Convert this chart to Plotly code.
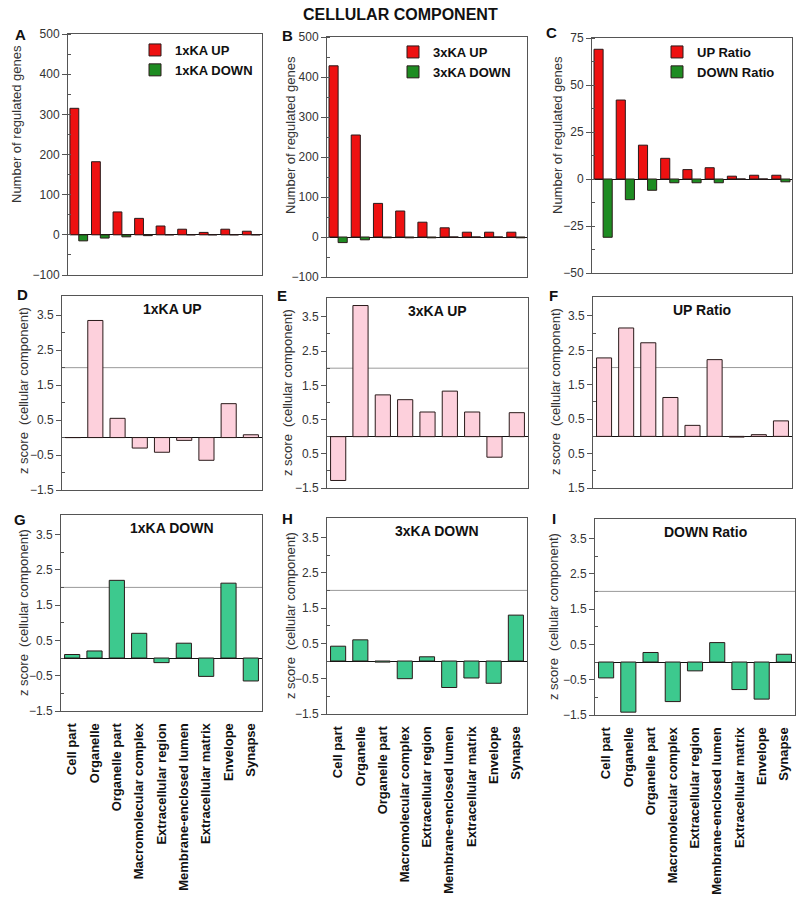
import plotly.graph_objects as go

W, H = 800, 897

categories = ["Cell part", "Organelle", "Organelle part", "Macromolecular complex",
              "Extracellular region", "Membrane-enclosed lumen", "Extracellular matrix",
              "Envelope", "Synapse"]

# Top row: number of regulated genes
ka1_up = [315, 182, 57, 41, 22, 14, 6, 14, 9]
ka1_down = [-15, -8, -5, -2, 0, 0, 0, 0, 0]
ka3_up = [428, 255, 84, 65, 37, 23, 12, 12, 12]
ka3_down = [-14, -7, -2, -2, -2, 0, 0, 0, -2]
ratio_up = [69, 42, 18, 11, 5, 6, 1.5, 2, 2]
ratio_down = [-31, -11, -6, -2, -2, -2, 0, 0, -1.5]

# z scores
z_1ka_up = [0, 3.35, 0.55, -0.3, -0.42, -0.08, -0.65, 0.97, 0.08]
z_3ka_up = [-1.28, 3.83, 1.22, 1.08, 0.72, 1.33, 0.72, -0.6, 0.7]
z_ratio_up = [2.28, 3.15, 2.72, 1.13, 0.32, 2.23, -0.02, 0.05, 0.45]
z_1ka_down = [0.1, 0.2, 2.2, 0.7, -0.13, 0.42, -0.52, 2.12, -0.65]
z_3ka_down = [0.42, 0.6, -0.03, -0.5, 0.12, -0.75, -0.48, -0.63, 1.3]
z_ratio_down = [-0.45, -1.42, 0.27, -1.12, -0.25, 0.55, -0.78, -1.05, 0.22]

z_tickvals = [3.5, 2.5, 1.5, 0.5, -0.5, -1.5]
ticktext_D = ["3.5", "2.5", "1.5", "0.5", "\u22120.5", "\u22121.5"]
ticktext_E = ["3.5", "2.5", "1.5", "0.5", "0.5", "\u22121.5"]
ticktext_F = ["3.5", "2.5", "1.5", "0.5", "0.5", "1.5"]

FONT = "Arial, Liberation Sans, sans-serif"
RED, DGREEN = "#EE1111", "#1E8C22"
PINK, MGREEN = "#FDD0DC", "#3DC98E"
EDGE = "#2a1a1a"

# panel boxes in pixels: x0, x1, y0(top), y1(bottom)
boxes = {
    1: (68, 262, 34, 275), 2: (327, 527, 37, 277), 3: (592, 792, 38, 273),
    4: (62, 262, 296, 490), 5: (327, 528, 298, 488), 6: (593, 792, 297, 488),
    7: (61, 262, 515, 711), 8: (327, 527, 518, 714), 9: (595, 795, 519, 715),
}

def px(x):
    return x / W

def py(y):
    return 1 - y / H

fig = go.Figure()

def ax(n, base):
    return base if n == 1 else f"{base}{n}"

top = [(1, ka1_up, ka1_down, "1xKA UP", "1xKA DOWN"),
       (2, ka3_up, ka3_down, "3xKA UP", "3xKA DOWN"),
       (3, ratio_up, ratio_down, "UP Ratio", "DOWN Ratio")]
legnames = {1: "legend", 2: "legend2", 3: "legend3"}
for n, up, down, nu, nd in top:
    fig.add_trace(go.Bar(x=categories, y=up, name=nu, marker=dict(color=RED, line=dict(color=EDGE, width=1)),
                         xaxis=ax(n, "x"), yaxis=ax(n, "y"), legend=legnames[n], offsetgroup="u"))
    fig.add_trace(go.Bar(x=categories, y=down, name=nd, marker=dict(color=DGREEN, line=dict(color=EDGE, width=1)),
                         xaxis=ax(n, "x"), yaxis=ax(n, "y"), legend=legnames[n], offsetgroup="d"))

zs = [(4, z_1ka_up, PINK, "1xKA UP", ticktext_D), (5, z_3ka_up, PINK, "3xKA UP", ticktext_E),
      (6, z_ratio_up, PINK, "UP Ratio", ticktext_F), (7, z_1ka_down, MGREEN, "1xKA DOWN", ticktext_D),
      (8, z_3ka_down, MGREEN, "3xKA DOWN", ticktext_D), (9, z_ratio_down, MGREEN, "DOWN Ratio", ticktext_D)]
for n, vals, col, title, tt in zs:
    fig.add_trace(go.Bar(x=categories, y=vals, marker=dict(color=col, line=dict(color=EDGE, width=1)),
                         width=0.68, showlegend=False, xaxis=ax(n, "x"), yaxis=ax(n, "y")))

layout = dict(
    template="none",
    width=W, height=H, margin=dict(l=0, r=0, t=0, b=0, autoexpand=False),
    paper_bgcolor="white", plot_bgcolor="white",
    barmode="group", bargap=0.18, bargroupgap=0.0,
    font=dict(family=FONT, size=12, color="#333"),
)

for n, (x0, x1, y0, y1) in boxes.items():
    row = (n - 1) // 3
    xa = dict(domain=[px(x0), px(x1)], anchor=ax(n, "y"), showline=True, mirror=True, automargin=False,
              linecolor="#555", linewidth=1, ticks="", showgrid=False, range=[-0.5, 8.5],
              showticklabels=(row == 2), tickangle=-90, ticklabelstandoff=6,
              tickfont=dict(family=FONT, size=13, color="#111", weight="bold"))
    ya = dict(domain=[py(y1), py(y0)], anchor=ax(n, "x"), showline=True, mirror=True, automargin=False,
              linecolor="#555", linewidth=1, showgrid=False, ticks="outside", ticklen=5,
              tickcolor="#555", zeroline=True, zerolinecolor="#111", zerolinewidth=1,
              tickfont=dict(family=FONT, size=12, color="#333"))
    if n in (1, 2):
        ya.update(range=[-100, 500], tickmode="linear", dtick=100, tick0=0,
                  minor=dict(ticks="inside", ticklen=3, dtick=50, tick0=0, tickcolor="#555"))
    elif n == 3:
        ya.update(range=[-50, 75], tickmode="linear", dtick=25, tick0=0,
                  minor=dict(ticks="inside", ticklen=3, dtick=12.5, tick0=0, tickcolor="#555"))
    else:
        tt = zs[n - 4][4]
        ya.update(range=[-1.5, 4.05], tickmode="array", tickvals=z_tickvals, ticktext=tt,
                  minor=dict(ticks="inside", ticklen=3, tickmode="array",
                             tickvals=[3.0, 2.0, 1.0, 0.0, -1.0], tickcolor="#555"))
    layout[ax(n, "xaxis")] = xa
    layout[ax(n, "yaxis")] = ya

# legends for top panels
leg_pos = {1: (135, 35), 2: (393, 37), 3: (657, 37)}
for n, (lx, ly) in leg_pos.items():
    layout[legnames[n]] = dict(x=px(lx), y=py(ly), xanchor="left", yanchor="top",
                               bgcolor="rgba(0,0,0,0)", borderwidth=0,
                               font=dict(family=FONT, size=13, color="#111", weight="bold"),
                               tracegroupgap=2, itemwidth=30)

fig.update_layout(**layout)

annotations = []
shapes = []

def ann(text, x, y, size, color="#111", angle=0):
    return dict(text=text, x=px(x), y=py(y), xref="paper", yref="paper", xanchor="center",
                yanchor="middle", showarrow=False, textangle=angle,
                font=dict(family=FONT, size=size, color=color))

# main title
annotations.append(ann("<b>CELLULAR COMPONENT</b>", 400, 15, 16))
letters = {"A": (20, 34), "B": (287, 35), "C": (551, 33), "D": (22, 294), "E": (282, 295),
           "F": (553, 295), "G": (20, 519), "H": (287, 518), "I": (554, 518)}
for k, (lx, ly) in letters.items():
    annotations.append(ann(f"<b>{k}</b>", lx, ly, 15))
# y titles
ytitles = [("Number of regulated genes", 17, 124), ("Number of regulated genes", 290, 135),
           ("Number of regulated genes", 557, 135),
           ("z score  (cellular component)", 23, 391), ("z score  (cellular component)", 288, 393),
           ("z score  (cellular component)", 555, 392),
           ("z score  (cellular component)", 23, 613), ("z score  (cellular component)", 290, 616),
           ("z score  (cellular component)", 553, 617)]
for t, tx, ty in ytitles:
    annotations.append(ann(t.replace("  ", "&nbsp; "), tx, ty, 13, "#333", -90))
# panel titles & threshold lines
for n, vals, col, title, tt in zs:
    annotations.append(dict(text=f"<b>{title}</b>", x=0.55, y=0.985, xref=f"{ax(n, 'x')} domain",
                            yref=f"{ax(n, 'y')} domain", xanchor="center", yanchor="top", showarrow=False,
                            font=dict(family=FONT, size=14, color="#111")))
    shapes.append(dict(type="line", xref=f"{ax(n, 'x')} domain", yref=ax(n, "y"), x0=0, x1=1, y0=2.0, y1=2.0,
                       line=dict(color="#9a9a9a", width=1), layer="below"))

fig.update_layout(annotations=annotations, shapes=shapes)
fig.write_html("out.html", config={"displayModeBar": False},
               post_script="document.body.style.margin='0';document.body.style.overflow='hidden';")
